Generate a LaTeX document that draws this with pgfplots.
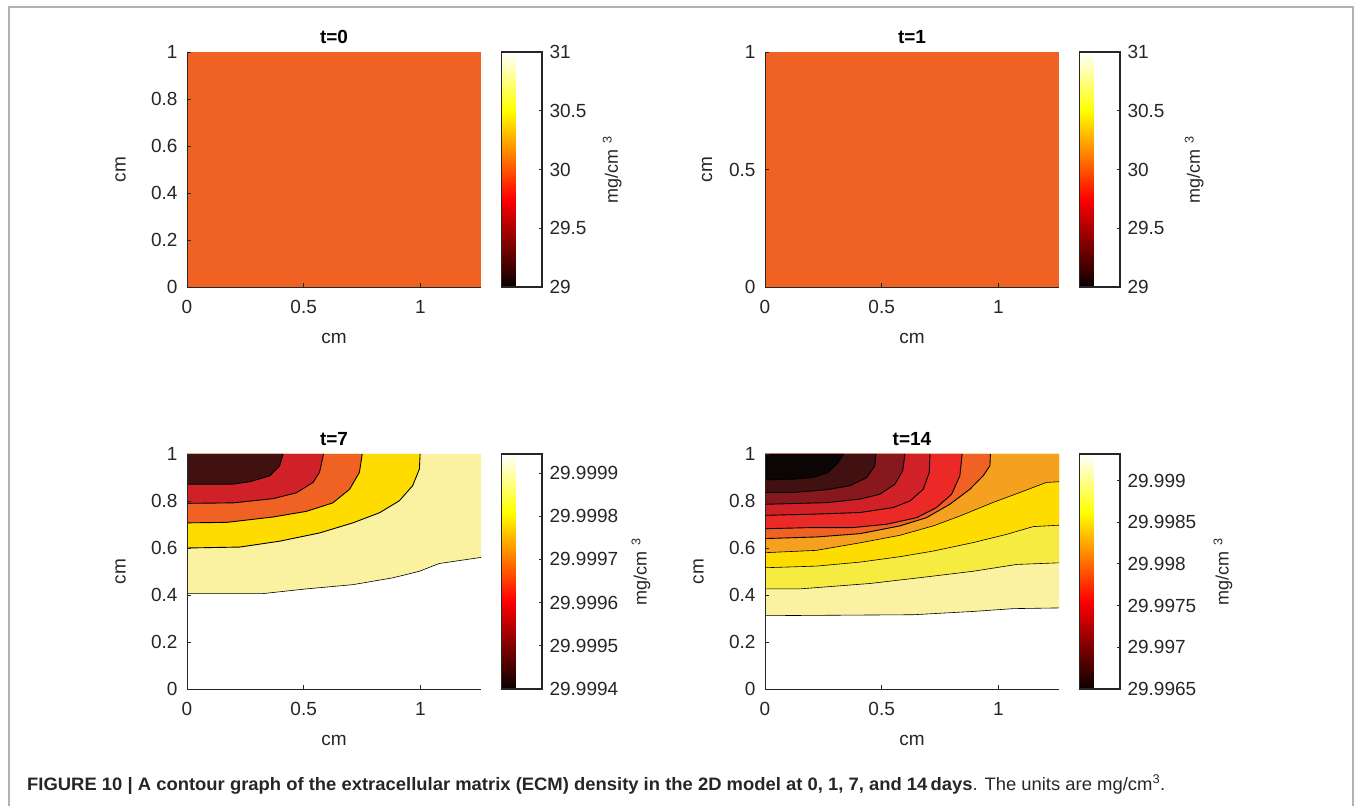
\documentclass[border=0pt]{standalone}
\usepackage{fontspec}
\setmainfont{Liberation Sans}
\usepackage{graphicx}
\usepackage{pgfplots}
\pgfplotsset{compat=1.18}
\definecolor{cOr}{RGB}{240,98,36}
\definecolor{cDk}{RGB}{65,16,16}
\definecolor{cBk}{RGB}{12,5,5}
\definecolor{cMr}{RGB}{135,25,30}
\definecolor{cRd}{RGB}{208,33,41}
\definecolor{cRe}{RGB}{235,42,40}
\definecolor{cOy}{RGB}{245,160,30}
\definecolor{cYe}{RGB}{255,220,0}
\definecolor{cYl}{RGB}{245,235,65}
\definecolor{cLt}{RGB}{250,242,160}
\definecolor{tx}{RGB}{38,38,38}
\newcommand{\fs}[1]{\fontsize{#1}{#1}\selectfont}
\pgfplotsset{
  colormap={mhot}{rgb255(0cm)=(10,0,0) rgb255(3cm)=(255,0,0) rgb255(6cm)=(255,255,0) rgb255(8cm)=(255,255,255)},
  panel/.style={
    scale only axis, width=294pt, height=235pt,
    xmin=0, xmax=1.26, ymin=0, ymax=1,
    axis lines*=left, axis line style={tx, line width=0.8pt, -},
    axis on top, clip=true,
    tick align=inside, major tick length=4pt, tick style={tx, line width=0.6pt},
    xtick={0,0.5,1}, xticklabels={0,0.5,1},
    tick label style={font=\fs{19}, text=tx},
    xticklabel style={yshift=-10pt},
    yticklabel style={xshift=-6pt},
    label style={font=\fs{19}, text=tx},
    xlabel={cm}, ylabel={cm},
    xlabel style={at={(rel axis cs:0.5,0)}, anchor=center, yshift=-51pt},
    title style={at={(rel axis cs:0.5,1)}, anchor=base, yshift=2pt, font=\bfseries\fs{19}},
    colormap name=mhot, colorbar,
    colorbar style={
      at={(parent axis.north east)}, anchor=north west, xshift=12pt,
      width=40.5pt,
      axis line style={tx, line width=1.6pt},
      ytick pos=right, yticklabel pos=right,
      tick align=inside, major tick length=3pt, tick style={tx, line width=1pt},
      yticklabel style={font=\fs{19}, text=tx, xshift=4pt},
      ylabel={mg/cm\hspace{6pt}\textsuperscript{3}},
      ylabel style={font=\fs{18}, text=tx, anchor=center},
    },
  },
  ctr/.style={draw=black, line width=0.9pt},
}
\begin{document}
\begin{tikzpicture}
\path[use as bounding box] (0pt,0pt) rectangle (1355pt,806pt);
\draw[black!30, line width=1.3pt] (9pt,0pt) -- (9pt,799pt) -- (1353pt,799pt) -- (1353pt,0pt);

% t=0
\begin{axis}[panel, at={(187pt,519pt)}, anchor=south west, title={t=0},
  ytick={0,0.2,0.4,0.6,0.8,1}, yticklabels={0,0.2,0.4,0.6,0.8,1},
  ylabel style={at={(rel axis cs:-0.226,0.5)}, anchor=center},
  point meta min=29, point meta max=31,
  colorbar style={ytick={29,29.5,30,30.5,31}, yticklabels={29,29.5,30,30.5,31},
    ylabel style={at={(rel axis cs:2.73,0.5)}}}]
\addplot[fill=cOr, draw=none] coordinates {(0,0) (1.26,0) (1.26,1) (0,1)};
\end{axis}

% t=1
\begin{axis}[panel, at={(765pt,519pt)}, anchor=south west, title={t=1},
  ytick={0,0.5,1}, yticklabels={0,0.5,1},
  ylabel style={at={(rel axis cs:-0.197,0.5)}, anchor=center},
  point meta min=29, point meta max=31,
  colorbar style={ytick={29,29.5,30,30.5,31}, yticklabels={29,29.5,30,30.5,31},
    ylabel style={at={(rel axis cs:2.83,0.5)}}}]
\addplot[fill=cOr, draw=none] coordinates {(0,0) (1.26,0) (1.26,1) (0,1)};
\end{axis}

% t=7
\begin{axis}[panel, at={(187pt,117pt)}, anchor=south west, title={t=7},
  ytick={0,0.2,0.4,0.6,0.8,1}, yticklabels={0,0.2,0.4,0.6,0.8,1},
  ylabel style={at={(rel axis cs:-0.226,0.5)}, anchor=center},
  point meta min=0, point meta max=5.44,
  colorbar style={ytick={0,1,2,3,4,5}, yticklabels={29.9994,29.9995,29.9996,29.9997,29.9998,29.9999},
    ylabel style={at={(rel axis cs:3.44,0.5)}}}]
\addplot[fill=cLt, draw=none] coordinates {(0,0.406) (0.326,0.406) (0.512,0.426) (0.711,0.444) (0.882,0.473) (0.996,0.501) (1.081,0.534) (1.26,0.56) (1.26,1) (0,1)};
\addplot[fill=cYe, draw=none] coordinates {(0.999,1) (0.996,0.936) (0.967,0.865) (0.910,0.801) (0.825,0.750) (0.711,0.707) (0.568,0.664) (0.397,0.629) (0.226,0.604) (0,0.600) (0,1)};
\addplot[fill=cOr, draw=none] coordinates {(0.751,1) (0.739,0.922) (0.697,0.850) (0.625,0.792) (0.512,0.756) (0.369,0.732) (0.170,0.709) (0,0.707) (0,1)};
\addplot[fill=cRd, draw=none] coordinates {(0.585,1) (0.568,0.922) (0.540,0.879) (0.469,0.835) (0.369,0.810) (0.198,0.792) (0,0.790) (0,1)};
\addplot[fill=cDk, draw=none] coordinates {(0.412,1) (0.397,0.950) (0.355,0.907) (0.269,0.882) (0.198,0.872) (0,0.872) (0,1)};
\addplot[ctr, line width=0.6pt] coordinates {(0,0.406) (0.326,0.406) (0.512,0.426) (0.711,0.444) (0.882,0.473) (0.996,0.501) (1.081,0.534) (1.26,0.56)};
\addplot[ctr] coordinates {(0.999,1) (0.996,0.936) (0.967,0.865) (0.910,0.801) (0.825,0.750) (0.711,0.707) (0.568,0.664) (0.397,0.629) (0.226,0.604) (0,0.600)};
\addplot[ctr] coordinates {(0.751,1) (0.739,0.922) (0.697,0.850) (0.625,0.792) (0.512,0.756) (0.369,0.732) (0.170,0.709) (0,0.707)};
\addplot[ctr] coordinates {(0.585,1) (0.568,0.922) (0.540,0.879) (0.469,0.835) (0.369,0.810) (0.198,0.792) (0,0.790)};
\addplot[ctr] coordinates {(0.412,1) (0.397,0.950) (0.355,0.907) (0.269,0.882) (0.198,0.872) (0,0.872)};
\end{axis}

% t=14
\begin{axis}[panel, at={(765pt,117pt)}, anchor=south west, title={t=14},
  ytick={0,0.2,0.4,0.6,0.8,1}, yticklabels={0,0.2,0.4,0.6,0.8,1},
  ylabel style={at={(rel axis cs:-0.226,0.5)}, anchor=center},
  point meta min=0, point meta max=5.64,
  colorbar style={ytick={0,1,2,3,4,5}, yticklabels={29.9965,29.997,29.9975,29.998,29.9985,29.999},
    ylabel style={at={(rel axis cs:3.54,0.5)}}}]
\addplot[fill=cLt, draw=none] coordinates {(0,0.312) (0.635,0.316) (0.892,0.330) (1.064,0.342) (1.26,0.345) (1.26,1) (0,1)};
\addplot[fill=cYl, draw=none] coordinates {(0,0.426) (0.150,0.426) (0.450,0.449) (0.692,0.477) (0.892,0.501) (1.078,0.530) (1.26,0.537) (1.26,1) (0,1)};
\addplot[fill=cYe, draw=none] coordinates {(0,0.516) (0.221,0.523) (0.407,0.540) (0.578,0.563) (0.721,0.587) (0.892,0.623) (1.035,0.658) (1.149,0.691) (1.26,0.697) (1.26,1) (0,1)};
\addplot[fill=cOy, draw=none] coordinates {(0,0.580) (0.221,0.590) (0.407,0.622) (0.578,0.654) (0.721,0.694) (0.835,0.736) (0.978,0.794) (1.092,0.836) (1.206,0.879) (1.26,0.882) (1.26,1) (0,1)};
\addplot[fill=cOr, draw=none] coordinates {(0.966,1) (0.964,0.950) (0.935,0.907) (0.878,0.850) (0.792,0.786) (0.692,0.729) (0.578,0.694) (0.407,0.661) (0.221,0.647) (0,0.640) (0,1)};
\addplot[fill=cRe, draw=none] coordinates {(0.845,1) (0.835,0.907) (0.800,0.829) (0.735,0.772) (0.650,0.729) (0.521,0.701) (0.378,0.687) (0.207,0.687) (0,0.682) (0,1)};
\addplot[fill=cRd, draw=none] coordinates {(0.707,1) (0.704,0.922) (0.678,0.850) (0.621,0.800) (0.549,0.772) (0.407,0.751) (0.207,0.744) (0,0.739) (0,1)};
\addplot[fill=cMr, draw=none] coordinates {(0.600,1) (0.590,0.929) (0.557,0.872) (0.493,0.829) (0.407,0.808) (0.264,0.793) (0,0.786) (0,1)};
\addplot[fill=cDk, draw=none] coordinates {(0.475,1) (0.471,0.950) (0.436,0.900) (0.364,0.865) (0.264,0.848) (0.121,0.836) (0,0.836) (0,1)};
\addplot[fill=cBk, draw=none] coordinates {(0.336,1) (0.314,0.964) (0.271,0.922) (0.207,0.900) (0.121,0.893) (0,0.890) (0,1)};
\addplot[ctr, line width=0.6pt] coordinates {(0,0.312) (0.635,0.316) (0.892,0.330) (1.064,0.342) (1.26,0.345)};
\addplot[ctr, line width=0.6pt] coordinates {(0,0.426) (0.150,0.426) (0.450,0.449) (0.692,0.477) (0.892,0.501) (1.078,0.530) (1.26,0.537)};
\addplot[ctr, line width=0.6pt] coordinates {(0,0.516) (0.221,0.523) (0.407,0.540) (0.578,0.563) (0.721,0.587) (0.892,0.623) (1.035,0.658) (1.149,0.691) (1.26,0.697)};
\addplot[ctr, line width=0.6pt] coordinates {(0,0.580) (0.221,0.590) (0.407,0.622) (0.578,0.654) (0.721,0.694) (0.835,0.736) (0.978,0.794) (1.092,0.836) (1.206,0.879) (1.26,0.882)};
\addplot[ctr] coordinates {(0.966,1) (0.964,0.950) (0.935,0.907) (0.878,0.850) (0.792,0.786) (0.692,0.729) (0.578,0.694) (0.407,0.661) (0.221,0.647) (0,0.640)};
\addplot[ctr] coordinates {(0.845,1) (0.835,0.907) (0.800,0.829) (0.735,0.772) (0.650,0.729) (0.521,0.701) (0.378,0.687) (0.207,0.687) (0,0.682)};
\addplot[ctr] coordinates {(0.707,1) (0.704,0.922) (0.678,0.850) (0.621,0.800) (0.549,0.772) (0.407,0.751) (0.207,0.744) (0,0.739)};
\addplot[ctr] coordinates {(0.600,1) (0.590,0.929) (0.557,0.872) (0.493,0.829) (0.407,0.808) (0.264,0.793) (0,0.786)};
\addplot[ctr] coordinates {(0.475,1) (0.471,0.950) (0.436,0.900) (0.364,0.865) (0.264,0.848) (0.121,0.836) (0,0.836)};
\addplot[ctr] coordinates {(0.336,1) (0.314,0.964) (0.271,0.922) (0.207,0.900) (0.121,0.893) (0,0.890)};
\end{axis}

\node[anchor=base west, inner sep=0pt, text=tx] at (27pt,16pt) {\resizebox{1138pt}{\height}{\fs{18}\textbf{FIGURE 10 | A contour graph of the extracellular matrix (ECM) density in the 2D model at 0, 1, 7, and 14\,days}. The units are mg/cm\textsuperscript{3}.}};
\end{tikzpicture}
\end{document}
